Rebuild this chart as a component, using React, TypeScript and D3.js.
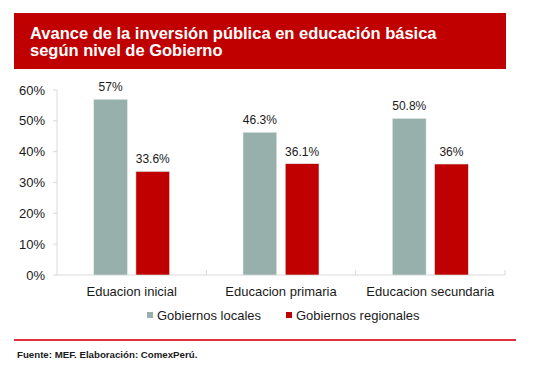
import React from 'react'
import * as d3 from 'd3'

const categories = ['Eduacion inicial', 'Educacion primaria', 'Educacion secundaria']
const seriesNames = ['Gobiernos locales', 'Gobiernos regionales']
const locales = [57, 46.3, 50.8]
const regionales = [33.6, 36.1, 36]
const labelsLocales = ['57%', '46.3%', '50.8%']
const labelsRegionales = ['33.6%', '36.1%', '36%']
const yTicks = [0, 10, 20, 30, 40, 50, 60]

const colors = ['#98B0AC', '#C00000']
const font = '"Liberation Sans", Arial, sans-serif'

const width = 533
const height = 373
const plot = { left: 57, right: 505, top: 90, bottom: 275 }

export default function App() {
    const x = d3.scaleBand<string>()
        .domain(categories)
        .range([plot.left, plot.right])
    const inner = d3.scaleBand<number>()
        .domain([0, 1])
        .range([0, 76])
        .paddingInner(0.2)
    const y = d3.scaleLinear()
        .domain([0, 60])
        .range([plot.bottom, plot.top])

    const series = [locales, regionales]
    const seriesLabels = [labelsLocales, labelsRegionales]

    return (
        <svg width={width} height={height} style={{ position: 'absolute', left: 0, top: 0, fontFamily: font }}>
            <rect x={0} y={0} width={width} height={height} fill="#fff" />
            <rect x={14} y={13} width={492} height={56} fill="#C00000" />
            <text x={30} y={39} fill="#fff" fontSize={16.5} fontWeight="bold">Avance de la inversión pública en educación básica</text>
            <text x={30} y={56} fill="#fff" fontSize={16.5} fontWeight="bold">según nivel de Gobierno</text>

            {/* axes */}
            <line x1={plot.left} x2={plot.left} y1={plot.top} y2={plot.bottom} stroke="#d9d9d9" />
            <line x1={plot.left} x2={plot.right} y1={plot.bottom} y2={plot.bottom} stroke="#d9d9d9" />
            {yTicks.map(t => (
                <g key={t}>
                    <line x1={plot.left - 4} x2={plot.left} y1={y(t)} y2={y(t)} stroke="#d9d9d9" />
                    <text x={45} y={y(t) + 4.5} textAnchor="end" fontSize={13} fill="#1a1a1a">{t}%</text>
                </g>
            ))}
            {categories.map(c => (
                <line key={c} x1={x(c)! + x.bandwidth()} x2={x(c)! + x.bandwidth()} y1={plot.bottom} y2={plot.bottom - 5} stroke="#d9d9d9" />
            ))}

            {/* bars */}
            {categories.map((c, i) => {
                const gx = x(c)! + x.bandwidth() / 2 - 38
                return (
                    <g key={c}>
                        {series.map((s, k) => (
                            <g key={k}>
                                <rect x={gx + inner(k)!} y={y(s[i])} width={inner.bandwidth()} height={y(0) - y(s[i])}
                                    fill={colors[k]} stroke="#e4ecea" strokeWidth={0.6} />
                                <text x={gx + inner(k)! + inner.bandwidth() / 2} y={y(s[i]) - 8} textAnchor="middle" fontSize={12} fill="#1a1a1a">
                                    {seriesLabels[k][i]}
                                </text>
                            </g>
                        ))}
                        <text x={x(c)! + x.bandwidth() / 2} y={296} textAnchor="middle" fontSize={13} fill="#1a1a1a">{c}</text>
                    </g>
                )
            })}

            {/* legend */}
            {seriesNames.map((n, k) => {
                const lx = [147, 286][k]
                return (
                    <g key={n}>
                        <rect x={lx} y={312} width={6} height={6} fill={colors[k]} />
                        <text x={lx + 10} y={319.5} fontSize={13} fill="#1a1a1a">{n}</text>
                    </g>
                )
            })}

            <line x1={14} x2={516} y1={340} y2={340} stroke="#E0303F" strokeWidth={2} />
            <text x={17} y={358} fontSize={9.7} fontWeight="bold" fill="#1a1a1a">Fuente: MEF. Elaboración: ComexPerú.</text>
        </svg>
    )
}
